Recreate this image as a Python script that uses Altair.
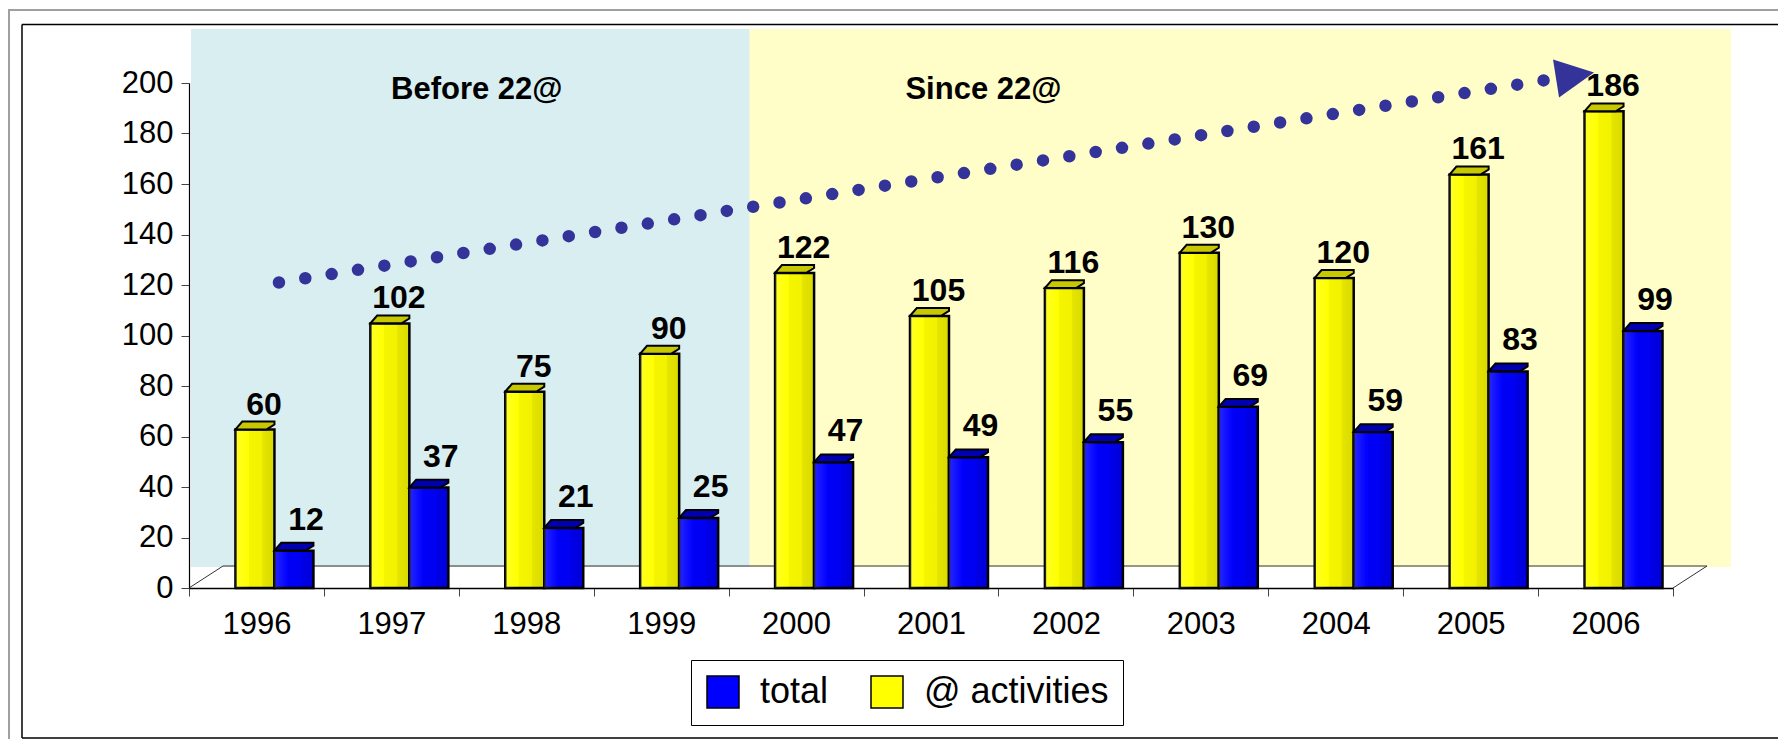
import altair as alt
import pandas as pd

# ---------------- data ----------------
years = ["1996", "1997", "1998", "1999", "2000", "2001", "2002", "2003", "2004", "2005", "2006"]
activities = [60, 102, 75, 90, 122, 105, 116, 130, 120, 161, 186]
total = [12, 37, 21, 25, 47, 49, 55, 69, 59, 83, 99]

bar_order = ["@ activities", "total"]          # left-to-right inside a year
legend_order = ["total", "@ activities"]       # legend order
legend_colors = ["#0000ff", "#ffff00"]

region_names = ["Before 22@", "Since 22@"]
region_start = ["1996", "2000"]
region_end = ["1999", "2006"]
region_label_year = ["1997", "2001"]
region_fill = ["#d9eef0", "#fffdc8"]

trend_years = ["1996", "2006"]
trend_values = [121, 203]

FONT = "Liberation Sans, Arial, sans-serif"
TREND_COLOR = "#333399"

bars_df = pd.DataFrame({
    "year": years + years,
    "series": [bar_order[0]] * len(years) + [bar_order[1]] * len(years),
    "value": activities + total,
})
regions_df = pd.DataFrame({
    "name": region_names, "start": region_start, "end": region_end,
    "label_year": region_label_year,
})
trend_df = pd.DataFrame([{"x0": trend_years[0], "x1": trend_years[1],
                          "y0": trend_values[0], "y1": trend_values[1]}])
arrow_df = pd.DataFrame([{"year": trend_years[1], "v": trend_values[1]}])

# ---------------- shared scales / axes ----------------
x_scale = alt.Scale(domain=years, paddingInner=0, paddingOuter=0)
y_scale = alt.Scale(domain=[0, 200], nice=False)
X_AX = alt.Axis(title=None, tickBand="extent", labelFont=FONT, labelFontSize=31,
                labelColor="black", labelBaseline="alphabetic", labelPadding=37,
                tickSize=8, tickColor="#444444", domainColor="black", domainWidth=1.5,
                labelAngle=0, grid=False, zindex=1)
Y_AX = alt.Axis(title=None, values=list(range(0, 201, 20)), labelFont=FONT,
                labelFontSize=31, labelColor="black", labelPadding=8, tickSize=8,
                tickColor="#444444", domainColor="black", domainWidth=1.2,
                grid=False, zindex=1)

x_year = alt.X("year:O", scale=x_scale, axis=X_AX)
x_off = alt.XOffset("series:N", scale=alt.Scale(domain=bar_order, paddingInner=0,
                                                paddingOuter=0.73, align=0.816))
y_val = alt.Y("value:Q", scale=y_scale, axis=Y_AX, stack=None)

EMPTY = alt.Data(values=[{}])


def deco_rule(x1, y1, x2, y2, color, width):
    return alt.Chart(EMPTY).mark_rule(color=color, strokeWidth=width).encode(
        x=alt.value(x1), x2=alt.value(x2), y=alt.value(y1), y2=alt.value(y2))


# ---------------- background regions ----------------
def region_layer(i, off1, off2):
    return alt.Chart(regions_df).transform_filter(
        alt.datum.name == region_names[i]
    ).mark_rect(color=region_fill[i], xOffset=off1, x2Offset=off2).encode(
        x=alt.X("start:O", scale=x_scale, axis=X_AX, bandPosition=0),
        x2=alt.X2("end", bandPosition=1),
        y=alt.value(-54), y2=alt.value(484),
    )


bg_before = region_layer(0, 2, 21)
bg_since = region_layer(1, 21, 58)

# floor (3D base) lines
floor = [
    deco_rule(34, 483, 1518, 483, "#333333", 1),
    deco_rule(0, 505, 34, 483, "#333333", 1),
    deco_rule(1484, 505, 1518, 483, "#333333", 1),
]

# chart frames
frames = [
    deco_rule(-181, -73, 1590, -73, "#a0a0a0", 2),
    deco_rule(-180, -73, -180, 660, "#a0a0a0", 2),
    deco_rule(-167, -58.5, 1590, -58.5, "black", 1.5),
    deco_rule(-167, -58.5, -167, 655, "black", 1.5),
    deco_rule(-167, 655, 1590, 655, "black", 1.5),
]

# ---------------- bars ----------------
bars = alt.Chart(bars_df).mark_bar(
    stroke="black", strokeWidth=2.5, yOffset=-7, y2Offset=-5
).encode(
    x=x_year, xOffset=x_off, y=y_val,
    color=alt.Color("series:N", scale=alt.Scale(domain=legend_order, range=legend_colors),
                    legend=alt.Legend(title=None, orient="none", legendX=502, legendY=577,
                                      direction="horizontal", symbolType="square",
                                      symbolSize=1024, symbolStrokeColor="black",
                                      symbolStrokeWidth=1.5, labelFont=FONT,
                                      labelFontSize=36, labelColor="black",
                                      labelLimit=0, labelOffset=19, columnPadding=39,
                                      padding=14, strokeColor="black", symbolOpacity=1)),
)

GRAD = {
    "gradient": "linear", "x1": 0, "y1": 0, "x2": 1, "y2": 0,
    "stops": [
        {"offset": 0, "color": "rgba(255,255,255,0.15)"},
        {"offset": 0.35, "color": "rgba(255,255,255,0)"},
        {"offset": 0.36, "color": "rgba(0,0,0,0.04)"},
        {"offset": 0.68, "color": "rgba(0,0,0,0.05)"},
        {"offset": 0.70, "color": "rgba(0,0,0,0.10)"},
        {"offset": 1, "color": "rgba(0,0,0,0.15)"},
    ],
}
shade = alt.Chart(bars_df).mark_bar(
    fill=GRAD, strokeWidth=0, yOffset=-7, y2Offset=-5
).encode(x=x_year, xOffset=x_off, y=y_val)

CAP = "M -1 0.2 L 0.6 0.2 L 1 -0.05 L 1 -0.2 L -0.65 -0.2 Z"
caps = alt.Chart(bars_df).mark_point(
    shape=CAP, filled=True, size=1521, stroke="black", strokeWidth=2, opacity=1,
    yOffset=-11
).encode(
    x=x_year, xOffset=x_off, y=y_val,
    fill=alt.condition(alt.datum.series == "total", alt.value("#0000b0"), alt.value("#c8c800")),
)


def label_layer(series, dx, dy):
    return alt.Chart(bars_df).transform_filter(
        alt.datum.series == series
    ).mark_text(
        font=FONT, fontWeight="bold", fontSize=32, baseline="alphabetic",
        dx=dx, dy=dy, color="black"
    ).encode(x=x_year, xOffset=x_off, y=y_val, text="value:Q")


labels = [label_layer(bar_order[0], 9, -22), label_layer(bar_order[1], 12, -28)]

# ---------------- trend arrow ----------------
trend = alt.Chart(trend_df).mark_rule(
    color=TREND_COLOR, strokeWidth=12.5, strokeCap="round", strokeDash=[0, 26.68],
    xOffset=22.5, x2Offset=-30.5
).encode(
    x=alt.X("x0:O", scale=x_scale, axis=X_AX), x2="x1",
    y=alt.Y("y0:Q", scale=y_scale, axis=Y_AX), y2="y1",
)
TRI = "M -1 -1 L 1 0 L -1 1 Z"
arrow = alt.Chart(arrow_df).mark_point(
    shape=TRI, filled=True, size=1480, angle=351, color=TREND_COLOR, opacity=1,
    xOffset=-30.5
).encode(
    x=alt.X("year:O", scale=x_scale, axis=X_AX),
    y=alt.Y("v:Q", scale=y_scale, axis=Y_AX),
)


# ---------------- region titles ----------------
def region_title(i, dx):
    return alt.Chart(regions_df).transform_filter(
        alt.datum.name == region_names[i]
    ).mark_text(font=FONT, fontWeight="bold", fontSize=31, baseline="alphabetic",
                align="center", dx=dx, color="black").encode(
        x=alt.X("label_year:O", scale=x_scale, axis=X_AX, bandPosition=1),
        y=alt.value(16), text="name:N",
    )


titles = [region_title(0, 18), region_title(1, -15)]

chart = alt.layer(
    bg_before, bg_since, *floor, *frames, bars, shade, caps, *labels, trend, arrow, *titles
).properties(
    width=1484, height=505,
    autosize=alt.AutoSizeParams(type="none"),
    padding={"left": 181, "top": 75, "right": 105, "bottom": 151},
    background="white",
).configure_view(stroke=None)

chart.save("out.html", embed_options={"renderer": "svg", "actions": False})
